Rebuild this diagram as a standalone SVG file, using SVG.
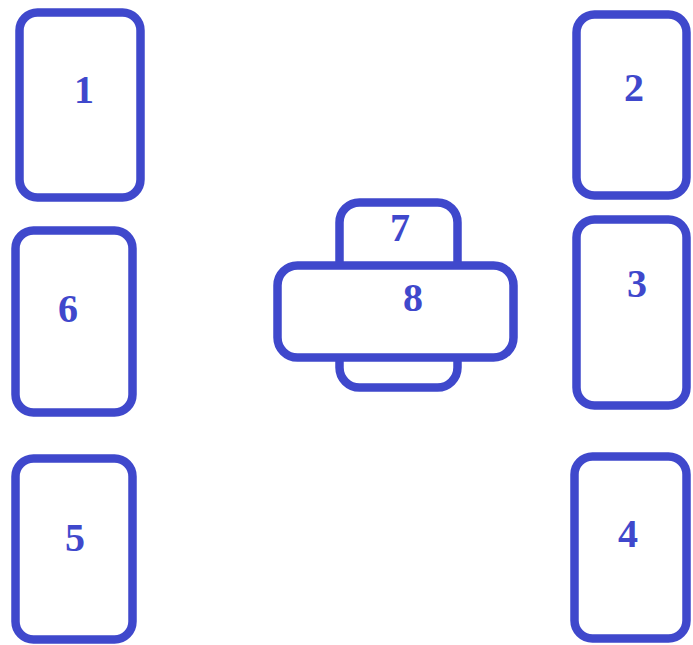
<svg xmlns="http://www.w3.org/2000/svg" width="693" height="645" viewBox="0 0 693 645">
<style>
.box{fill:#fff;stroke:#3F48CC;stroke-width:8.5}
.lbl{font-family:"Liberation Serif","Times New Roman",serif;font-weight:bold;font-size:40px;fill:#3F48CC;text-anchor:middle}
</style>
<rect width="693" height="645" fill="#fff"/>
<g id="connectors"></g>
<g id="n1"><rect class="box" x="19.5" y="12.5" width="121" height="185" rx="18"/><text class="lbl" x="84" y="103">1</text></g>
<g id="n2"><rect class="box" x="576.5" y="14.5" width="110" height="181" rx="18"/><text class="lbl" x="634" y="101">2</text></g>
<g id="n3"><rect class="box" x="576.5" y="219.5" width="110" height="186" rx="18"/><text class="lbl" x="637" y="297">3</text></g>
<g id="n4"><rect class="box" x="574.5" y="456.5" width="112" height="182" rx="18"/><text class="lbl" x="628" y="547">4</text></g>
<g id="n5"><rect class="box" x="15.5" y="458.5" width="117" height="181" rx="18"/><text class="lbl" x="75" y="551">5</text></g>
<g id="n6"><rect class="box" x="15.5" y="230.5" width="117" height="182" rx="18"/><text class="lbl" x="68" y="322">6</text></g>
<g id="n7"><rect class="box" x="339.5" y="202.5" width="118" height="185" rx="20"/><text class="lbl" x="400" y="241">7</text></g>
<g id="n8"><rect class="box" x="277.5" y="265.5" width="236" height="92" rx="20"/><text class="lbl" x="413" y="311">8</text></g>
</svg>
